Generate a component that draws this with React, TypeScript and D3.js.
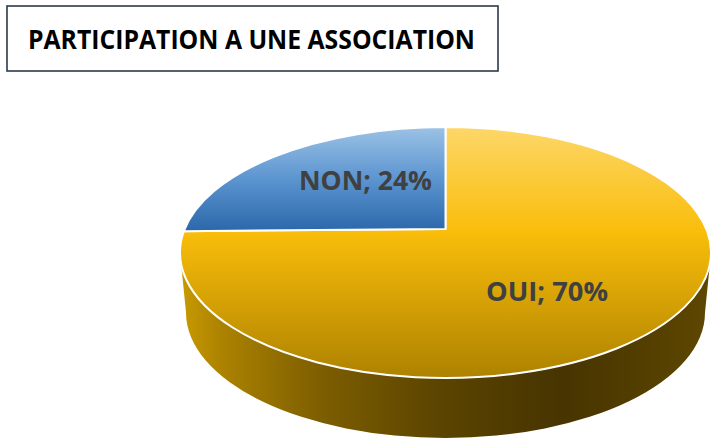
import React from "react";
import * as d3 from "d3";

const title = "PARTICIPATION A UNE ASSOCIATION";
const categories = ["OUI", "NON"];
const values = [70, 24];

const W = 710, H = 438;
const cx = 445.5, cy = 252.5, rx = 265.5, ry = 125.5;
const vx = 445.5, vy = 229;
const depth = 60;
const FONT = "'Open Sans', 'Noto Sans', sans-serif";

// d3.pie gives the slice angles; each angle is projected onto the tilted top ellipse
const slices = d3.pie<number>().sort(null)(values);

function rim(a: number): [number, number] {
  const dx = Math.sin(a), dy = -Math.cos(a) * 0.25;
  const ox = vx - cx, oy = vy - cy;
  const A = (dx * dx) / (rx * rx) + (dy * dy) / (ry * ry);
  const B = 2 * ((ox * dx) / (rx * rx) + (oy * dy) / (ry * ry));
  const C = (ox * ox) / (rx * rx) + (oy * oy) / (ry * ry) - 1;
  const t = (-B + Math.sqrt(B * B - 4 * A * C)) / (2 * A);
  return [vx + t * dx, vy + t * dy];
}

function slicePath(a0: number, a1: number) {
  const [x0, y0] = rim(a0);
  const [x1, y1] = rim(a1);
  const large = a1 - a0 > Math.PI ? 1 : 0;
  return `M${vx},${vy}L${x0},${y0}A${rx},${ry} 0 ${large} 1 ${x1},${y1}Z`;
}

const sidePath =
  `M${cx - rx},${cy}` +
  `A${rx},${ry} 0 0 0 ${cx + rx},${cy}` +
  `L${cx + rx - 6},${cy + depth}` +
  `A${rx - 6},${ry} 0 0 1 ${cx - rx + 6},${cy + depth}Z`;

const labelPos = [
  { x: 486, y: 301, w: 122 },
  { x: 299, y: 190, w: 133 },
];

export default function App() {
  return (
    <svg
      width={W}
      height={H}
      viewBox={`0 0 ${W} ${H}`}
      style={{ position: "absolute", left: 0, top: 0, display: "block", background: "#fff" }}
    >
      <defs>
        <linearGradient id="gold" gradientUnits="userSpaceOnUse" x1="0" x2="0" y1="127" y2="378">
          <stop offset="0" stopColor="#fdd768" />
          <stop offset="0.42" stopColor="#f9bd0a" />
          <stop offset="1" stopColor="#ad8200" />
        </linearGradient>
        <linearGradient id="blue" gradientUnits="userSpaceOnUse" x1="0" x2="0" y1="127" y2="230">
          <stop offset="0" stopColor="#9cc2e6" />
          <stop offset="0.5" stopColor="#5c95d0" />
          <stop offset="1" stopColor="#2c68ab" />
        </linearGradient>
        <linearGradient id="side" gradientUnits="userSpaceOnUse" x1="180" x2="711" y1="0" y2="0">
          <stop offset="0" stopColor="#c99a00" />
          <stop offset="0.08" stopColor="#ab8200" />
          <stop offset="0.27" stopColor="#7c5d00" />
          <stop offset="0.48" stopColor="#5c4500" />
          <stop offset="0.72" stopColor="#473400" />
          <stop offset="1" stopColor="#5e4700" />
        </linearGradient>
      </defs>

      <rect x={7} y={6} width={491} height={65} fill="#fff" stroke="#2b3a4a" strokeWidth={1.6} />
      <text x={28} y={49} fontFamily={FONT} fontWeight={700} fontSize={26.5} fill="#000" textLength={447} lengthAdjust="spacingAndGlyphs">
        {title}
      </text>

      <path d={sidePath} fill="url(#side)" />
      {slices.map((s, i) => (
        <path
          key={categories[i]}
          d={slicePath(s.startAngle, s.endAngle)}
          fill={i === 0 ? "url(#gold)" : "url(#blue)"}
          stroke="#fff"
          strokeWidth={2}
          strokeLinejoin="round"
        />
      ))}
      {slices.map((s, i) => (
        <text
          key={categories[i] + "-label"}
          x={labelPos[i].x}
          y={labelPos[i].y}
          fontFamily={FONT}
          fontWeight={700}
          fontSize={27}
          fill="#404040"
          textLength={labelPos[i].w}
          lengthAdjust="spacingAndGlyphs"
        >
          {`${categories[i]}; ${s.value}%`}
        </text>
      ))}
    </svg>
  );
}
